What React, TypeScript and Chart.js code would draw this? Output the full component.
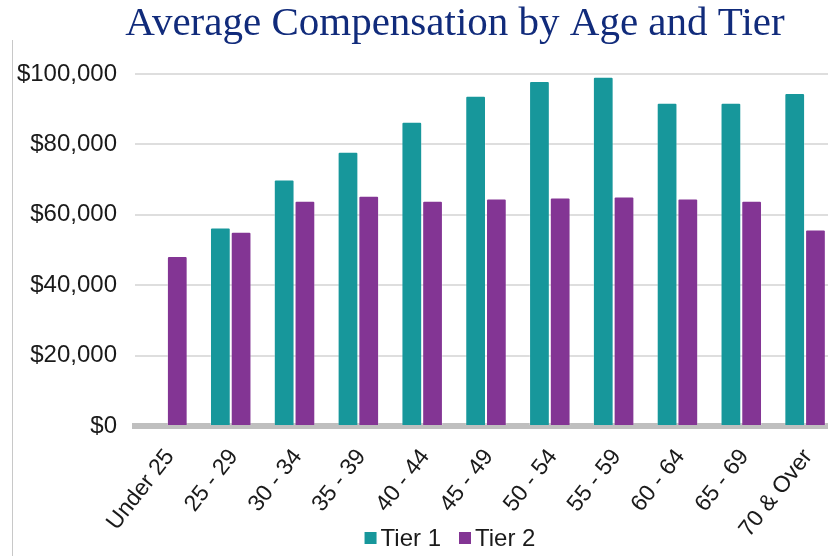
import React, { useEffect, useRef } from "react";
import { Chart, registerables } from "chart.js";

Chart.register(...registerables);

const TITLE = "Average Compensation by Age and Tier";
const CATEGORIES = ["Under 25", "25 - 29", "30 - 34", "35 - 39", "40 - 44", "45 - 49", "50 - 54", "55 - 59", "60 - 64", "65 - 69", "70 & Over"];
const TIER1 = [null, 56400, 70000, 77900, 86400, 93800, 98000, 99200, 91800, 91800, 94600];
const TIER2 = [48300, 55200, 64000, 65400, 64000, 64600, 64900, 65200, 64600, 64000, 55800];
const SERIES_NAMES = ["Tier 1", "Tier 2"];
const COLORS = ["#17979B", "#833594"];
const Y_MAX = 100000;
const Y_STEP = 20000;

const FONT = "'Liberation Sans', Arial, sans-serif";

const decorPlugin = {
  id: "decor",
  afterDraw(chart: any) {
    const ctx = chart.ctx;
    ctx.save();
    // left frame line
    ctx.strokeStyle = "#C8C8C8";
    ctx.lineWidth = 1;
    ctx.beginPath();
    ctx.moveTo(12.5, 40);
    ctx.lineTo(12.5, 556);
    ctx.stroke();
    // title
    ctx.fillStyle = "#112B7B";
    ctx.font = "41px 'Liberation Serif', 'Times New Roman', serif";
    ctx.textAlign = "center";
    ctx.textBaseline = "alphabetic";
    ctx.fillText(TITLE, 455, 35);
    // legend
    ctx.font = "24px " + FONT;
    ctx.textAlign = "left";
    ctx.textBaseline = "middle";
    const ds = chart.data.datasets;
    const box = 12;
    const gap = 4;
    const itemGap = 18;
    const widths = ds.map((d: any) => box + gap + ctx.measureText(d.label).width);
    const total = widths.reduce((a: number, b: number) => a + b, 0) + itemGap * (ds.length - 1);
    let x = 450 - total / 2;
    const y = 538;
    ds.forEach((d: any, i: number) => {
      ctx.fillStyle = d.backgroundColor;
      ctx.fillRect(x, y - box / 2, box, box);
      ctx.fillStyle = "#1a1a1a";
      ctx.fillText(d.label, x + box + gap, y + 1);
      x += widths[i] + itemGap;
    });
    ctx.restore();
  },
};

export default function App() {
  const ref = useRef<HTMLCanvasElement>(null);
  useEffect(() => {
    if (!ref.current) return;
    const chart = new Chart(ref.current, {
      type: "bar",
      data: {
        labels: CATEGORIES,
        datasets: [
          {
            label: SERIES_NAMES[0],
            data: TIER1,
            backgroundColor: COLORS[0],
            borderColor: "rgba(255,255,255,0.3)",
            borderWidth: 1,
            borderRadius: 2,
          },
          {
            label: SERIES_NAMES[1],
            data: TIER2,
            backgroundColor: COLORS[1],
            borderColor: "rgba(255,255,255,0.3)",
            borderWidth: 1,
            borderRadius: 2,
          },
        ],
      },
      options: {
        responsive: false,
        animation: false,
        devicePixelRatio: 1,
        layout: { padding: { top: 74, left: 17, right: 5, bottom: 10 } },
        plugins: {
          legend: { display: false },
          title: { display: false },
          tooltip: { enabled: false },
        },
        datasets: {
          bar: { categoryPercentage: 0.65, barPercentage: 1.0 },
        },
        scales: {
          x: {
            grid: { display: false },
            border: { display: true, color: "#BFBFBF", width: 6 },
            ticks: {
              color: "#1a1a1a",
              font: { family: FONT, size: 23 },
              minRotation: 52,
              maxRotation: 52,
              padding: 10,
              labelOffset: 3,
              autoSkip: false,
            },
            afterFit: (scale: any) => {
              scale.height = 120;
              scale.paddingLeft = 0;
              scale.paddingRight = 0;
            },
          },
          y: {
            min: 0,
            max: Y_MAX,
            grid: { color: "#DEDEDE", lineWidth: 2, drawTicks: false },
            border: { display: false },
            ticks: {
              stepSize: Y_STEP,
              color: "#1a1a1a",
              padding: 18,
              font: { family: FONT, size: 24 },
              callback: (v: any) => "$" + Number(v).toLocaleString("en-US"),
            },
            afterFit: (scale: any) => {
              scale.width = 118;
              scale.paddingTop = 0;
              scale.paddingBottom = 0;
            },
          },
        },
      },
      plugins: [decorPlugin],
    });
    return () => chart.destroy();
  }, []);
  return (
    <div style={{ position: "fixed", left: 0, top: 0, width: 828, height: 556, overflow: "hidden", background: "#fff" }}>
      <canvas ref={ref} width={842} height={556} style={{ display: "block", width: 842, height: 556 }} />
    </div>
  );
}
